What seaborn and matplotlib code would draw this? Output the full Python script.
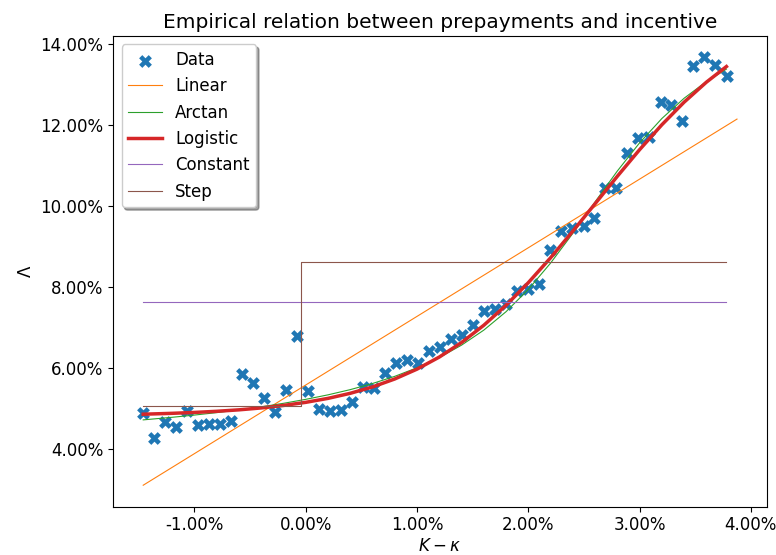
import numpy as np
import pandas as pd
import matplotlib
matplotlib.use("Agg")
import matplotlib.pyplot as plt
from matplotlib.ticker import FuncFormatter
import seaborn as sns

# ---- data (values in percent) ----
incentive = [-1.462, -1.363, -1.262, -1.163, -1.065, -0.967, -0.866, -0.771, -0.672, -0.569,
             -0.473, -0.375, -0.277, -0.176, -0.078, 0.021, 0.122, 0.221, 0.319, 0.420,
             0.518, 0.616, 0.714, 0.813, 0.911, 1.009, 1.112, 1.210, 1.306, 1.404,
             1.504, 1.604, 1.703, 1.804, 1.902, 2.000, 2.098, 2.194, 2.295, 2.393,
             2.497, 2.592, 2.688, 2.786, 2.890, 2.988, 3.087, 3.188, 3.286, 3.384,
             3.479, 3.578, 3.679, 3.783]
prepay = [4.889, 4.264, 4.652, 4.543, 4.938, 4.585, 4.617, 4.617, 4.691, 5.837,
          5.622, 5.252, 4.914, 5.449, 6.783, 5.425, 4.973, 4.938, 4.956, 5.153,
          5.531, 5.499, 5.877, 6.116, 6.183, 6.109, 6.407, 6.504, 6.716, 6.807,
          7.054, 7.407, 7.454, 7.573, 7.906, 7.943, 8.062, 8.919, 9.375, 9.442,
          9.499, 9.689, 10.43, 10.44, 11.294, 11.664, 11.704, 12.56, 12.486, 12.099,
          13.457, 13.664, 13.474, 13.202]

curve_x = [-1.46, -1.2, -1.0, -0.8, -0.6, -0.4, -0.2, 0.0, 0.2, 0.4, 0.6, 0.8, 1.0, 1.2,
           1.4, 1.6, 1.8, 2.0, 2.2, 2.4, 2.6, 2.8, 3.0, 3.2, 3.4, 3.6, 3.78]
logistic_y = [4.853, 4.875, 4.897, 4.925, 4.961, 5.008, 5.069, 5.146, 5.244, 5.369,
              5.526, 5.723, 5.966, 6.264, 6.623, 7.049, 7.542, 8.101, 8.715, 9.372,
              10.05, 10.728, 11.385, 12.0, 12.558, 13.051, 13.437]
arctan_y = [4.713, 4.777, 4.832, 4.892, 4.959, 5.035, 5.122, 5.220, 5.331, 5.460,
            5.611, 5.788, 5.999, 6.251, 6.558, 6.929, 7.384, 7.934, 8.584, 9.318,
            10.096, 10.858, 11.553, 12.154, 12.655, 13.066, 13.374]

linear_x = [-1.46, 3.875]
linear_y = [3.10, 12.14]

constant_x = [-1.46, 3.78]
constant_y = [7.63, 7.63]

step_x = [-1.46, -0.04, -0.04, 3.78]
step_y = [5.05, 5.05, 8.60, 8.60]

plt.rcParams['font.size'] = 12
plt.rcParams['axes.unicode_minus'] = False

fig = plt.figure(figsize=(7.76, 5.55), dpi=100)
ax = fig.add_axes([0.146, 0.0872, 0.842, 0.848])

pal = sns.color_palette("tab10")

sns.scatterplot(x=incentive, y=prepay, marker="X", s=85, color=pal[0],
                linewidth=0, label="Data", ax=ax, zorder=2)
sns.lineplot(x=linear_x, y=linear_y, color=pal[1], linewidth=0.8,
             estimator=None, sort=False, label="Linear", ax=ax)
sns.lineplot(x=curve_x, y=arctan_y, color=pal[2], linewidth=0.8,
             estimator=None, sort=False, label="Arctan", ax=ax)
sns.lineplot(x=curve_x, y=logistic_y, color=pal[3], linewidth=2.5,
             estimator=None, sort=False, label="Logistic", ax=ax)
sns.lineplot(x=constant_x, y=constant_y, color=pal[4], linewidth=0.8,
             estimator=None, sort=False, label="Constant", ax=ax)
sns.lineplot(x=step_x, y=step_y, color=pal[5], linewidth=0.8,
             estimator=None, sort=False, label="Step", ax=ax)

ax.set_title("Empirical relation between prepayments and incentive", fontsize=14.5)
ax.set_xlabel(r"$K - \kappa$", labelpad=2)
ax.set_ylabel(r"$\Lambda$")

fmt = FuncFormatter(lambda v, _: f"{v:.2f}%".replace("-0.00%", "0.00%"))
ax.xaxis.set_major_formatter(fmt)
ax.yaxis.set_major_formatter(fmt)
ax.set_xticks([-1, 0, 1, 2, 3, 4])
ax.set_yticks([4, 6, 8, 10, 12, 14])
ax.margins(0.05)

ax.legend(loc="upper left", shadow=True, fancybox=True)

fig.savefig("out.png", dpi=100)
